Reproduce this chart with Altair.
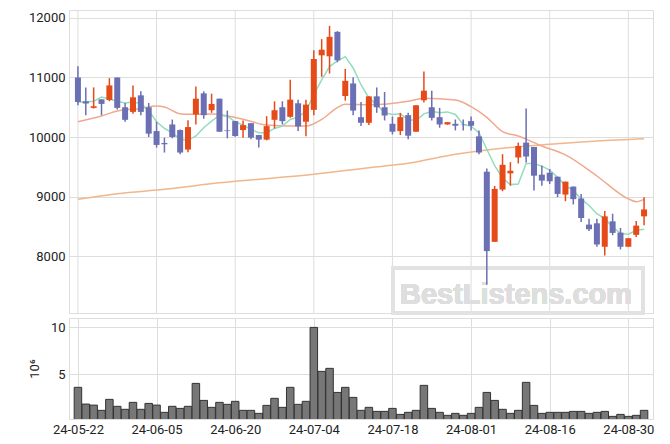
import altair as alt
import pandas as pd

# ---- data ----
opens = [11000, 10600, 10489, 10633, 10622, 11000, 10500, 10422, 10700, 10500,
         10100, 9900, 10211, 10117, 9789, 10378, 10733, 10450, 10644, 10111,
         10267, 10117, 10233, 10033, 9956, 10289, 10500, 10339, 10567, 10256,
         10456, 11372, 11356, 11767, 10689, 10900, 10333, 10239, 10683, 10500,
         10222, 10100, 10367, 10089, 10617, 10500, 10333, 10211, 10222, 10206,
         10267, 10011, 9417, 8239, 9117, 9389, 9656, 9906, 9833, 9367,
         9400, 9333, 9033, 9167, 8967, 8528, 8550, 8156, 8583, 8394,
         8156, 8356, 8667]
closes = [10589, 10561, 10517, 10556, 10867, 10489, 10289, 10667, 10422, 10056,
          9867, 9878, 10000, 9739, 10167, 10644, 10367, 10556, 10089, 10100,
          10017, 10200, 9989, 9956, 10183, 10450, 10267, 10628, 10178, 10544,
          11311, 11467, 11683, 11289, 10944, 10444, 10239, 10683, 10500, 10361,
          10089, 10333, 10022, 10533, 10778, 10322, 10211, 10250, 10189, 10200,
          10189, 9739, 8083, 9128, 9533, 9433, 9850, 9672, 9350, 9267,
          9256, 9044, 9250, 8956, 8639, 8450, 8194, 8667, 8389, 8156,
          8300, 8511, 8783]
highs = [11189, 10833, 10833, 10633, 10989, 11000, 10572, 10867, 10767, 10572,
         10256, 9989, 10294, 10128, 10283, 10850, 10767, 10728, 10644, 10444,
         10267, 10278, 10233, 10033, 10350, 10600, 10600, 10961, 10628, 10628,
         11456, 11644, 11867, 11778, 11144, 11006, 10589, 10683, 10833, 10756,
         10344, 10406, 10406, 10533, 11100, 10778, 10489, 10250, 10294, 10294,
         10344, 10111, 9472, 9178, 9711, 9578, 9906, 10478, 9833, 9517,
         9461, 9333, 9250, 9167, 9044, 8628, 8628, 8756, 8711, 8472,
         8300, 8589, 8989]
lows = [10533, 10367, 10478, 10367, 10600, 10461, 10256, 10389, 10367, 10000,
        9822, 9739, 9978, 9711, 9744, 10211, 10306, 10406, 10089, 9978,
        10006, 9989, 9961, 9822, 9944, 10144, 10211, 10322, 10100, 10011,
        10367, 11011, 11067, 11256, 10611, 10367, 10183, 10200, 10406, 10278,
        10044, 10033, 9961, 10089, 10578, 10278, 10156, 10206, 10111, 10111,
        10111, 9711, 7517, 8239, 9089, 9183, 9556, 9572, 9100, 9183,
        9211, 8989, 8922, 8867, 8572, 8422, 8156, 8011, 8350, 8111,
        8156, 8322, 8517]
volumes = [3.62, 1.84, 1.73, 1.17, 2.34, 1.60, 1.28, 2.02, 1.28, 1.91,
           1.73, 0.96, 1.60, 1.38, 1.60, 4.04, 2.23, 1.49, 2.02, 1.81,
           2.13, 1.17, 1.17, 0.85, 1.70, 2.45, 1.49, 3.62, 1.81, 2.13,
           10.0, 5.32, 5.64, 3.08, 3.62, 2.55, 1.17, 1.49, 1.06, 1.06,
           1.38, 0.74, 0.96, 1.17, 3.83, 1.38, 0.96, 0.64, 0.85, 0.64,
           0.85, 1.49, 3.08, 2.23, 1.28, 0.85, 1.17, 4.15, 1.70, 0.85,
           0.96, 0.96, 0.96, 1.06, 1.06, 0.85, 0.96, 1.06, 0.53, 0.74,
           0.53, 0.64, 1.17]
ma5 = [10589, 10583, 10600, 10672, 10639, 10600, 10572, 10589, 10561, 10444,
       10256, 10144, 10072, 9961, 9944, 10017, 10156, 10267, 10367, 10350,
       10256, 10200, 10128, 10072, 10072, 10144, 10183, 10294, 10333, 10433,
       10711, 10961, 11183, 11278, 11350, 11160, 10878, 10656, 10544, 10406,
       10378, 10389, 10294, 10278, 10389, 10433, 10406, 10422, 10378, 10211,
       10183, 10072, 9794, 9517, 9311, 9200, 9211, 9556, 9556, 9510,
       9444, 9322, 9183, 9100, 8961, 8850, 8711, 8628, 8489, 8378,
       8367, 8433, 8450]
ma20_idx = [0, 3, 5, 8, 10, 11, 13, 14, 17, 21, 24, 27, 29, 31, 33, 34, 37,
            42, 44, 48, 50, 52, 54, 56, 59, 62, 66, 70, 71, 72]
ma20_val = [10257, 10353, 10437, 10480, 10521, 10504, 10391, 10381, 10385, 10300,
            10200, 10185, 10185, 10297, 10493, 10549, 10540, 10600, 10650, 10620,
            10510, 10330, 10090, 10017, 9849, 9700, 9345, 8960, 8913, 8953]
malong_idx = [0, 5, 11, 18, 30, 37, 42, 48, 56, 60, 66, 72]
malong_val = [8953, 9048, 9121, 9230, 9373, 9484, 9558, 9709, 9837, 9877, 9933, 9971]

holidays = ["2024-06-06", "2024-08-15"]
days = [d for d in pd.bdate_range("2024-05-22", "2024-09-03")
        if d.strftime("%Y-%m-%d") not in holidays]
date_labels = [d.strftime("%y-%m-%d") for d in days]
tick_idx = list(range(0, 71, 10))

n = len(opens)
df = pd.DataFrame({
    "idx": list(range(n)), "date": date_labels[:n],
    "open": opens, "close": closes, "high": highs, "low": lows, "vol": volumes,
})
df["dir"] = ["up" if c > o else "down" for o, c in zip(opens, closes)]
df_ma5 = pd.DataFrame({"idx": list(range(n)), "v": ma5})
df_ma20 = pd.DataFrame({"idx": ma20_idx, "v": ma20_val})
df_long = pd.DataFrame({"idx": malong_idx, "v": malong_val})
df_ticks = pd.DataFrame({"idx": tick_idx})

RED = "#e64a19"
BLUE = "#6b6fb3"
GRID = "#dddddd"
FONT = "Roboto"

label_arr = "[" + ",".join("'" + date_labels[i] + "'" for i in tick_idx) + "]"
xscale = alt.Scale(domain=[-0.5, n - 0.5], nice=False, zero=False)
pscale = alt.Scale(domain=[7043, 12134], nice=False, zero=False)
color = alt.Color("dir:N", scale=alt.Scale(domain=["up", "down"], range=[RED, BLUE]), legend=None)

x_price = alt.X("idx:Q", scale=xscale, axis=None)

# vertical grid lines of the price panel
vgrid = alt.Chart(df_ticks).mark_rule(color=GRID, strokeWidth=1).encode(x=x_price)

# watermark
wm_box = alt.Chart(df).mark_rect(fill=None, stroke="#e2e2e2", strokeWidth=3).encode(
    x=alt.value(324), x2=alt.value(574), y=alt.value(258), y2=alt.value(303))
wm_text = alt.Chart(df).mark_text(text="BestListens.com", font="Liberation Sans", fontWeight="bold",
                                  fontSize=29, color="#dedede", align="center", baseline="alphabetic").encode(
    x=alt.value(447), y=alt.value(294))

line5 = alt.Chart(df_ma5).mark_line(color="#93dcbd", strokeWidth=1.5).encode(
    x=x_price, y=alt.Y("v:Q", scale=pscale))
line20 = alt.Chart(df_ma20).mark_line(color="#efa98e", strokeWidth=1.5, interpolate="monotone").encode(
    x=x_price, y=alt.Y("v:Q", scale=pscale))
lineL = alt.Chart(df_long).mark_line(color="#f1b68c", strokeWidth=1.5, interpolate="monotone").encode(
    x=x_price, y=alt.Y("v:Q", scale=pscale))

wick = alt.Chart(df).mark_rule(strokeWidth=1.5).encode(
    x=x_price,
    y=alt.Y("low:Q", scale=pscale,
            axis=alt.Axis(values=[8000, 9000, 10000, 11000, 12000], format="d", title=None, ticks=False,
                          domain=False, grid=True, gridColor=GRID, labelPadding=4,
                          labelFont=FONT, labelFontSize=13, labelColor="#222",
                          minExtent=45, maxExtent=45)),
    y2="high:Q", color=color)
body = alt.Chart(df).mark_bar(size=6).encode(
    x=x_price, y=alt.Y("open:Q", scale=pscale), y2="close:Q", color=color)

price = alt.layer(vgrid, wm_box, wm_text, lineL, line20, line5, wick, body).properties(width=584, height=303)

volume = alt.Chart(df).mark_bar(size=7.5, fill="#777777", stroke="#333333", strokeWidth=1, clip=True).encode(
    x=alt.X("idx:Q", scale=xscale,
            axis=alt.Axis(values=tick_idx, labelExpr=label_arr + "[round(datum.value/10)]",
                          ticks=False, domain=False, grid=True, gridColor=GRID, title=None,
                          labelFont=FONT, labelFontSize=13, labelColor="#222", labelPadding=4)),
    y=alt.Y("vol:Q", scale=alt.Scale(domain=[0.25, 11], nice=False, zero=False),
            axis=alt.Axis(values=[5, 10], title="10⁶", ticks=False, domain=False, grid=True,
                          gridColor=GRID, labelPadding=4, labelFont=FONT, labelFontSize=13,
                          labelColor="#222", titleFont=FONT, titleFontSize=13,
                          titleFontWeight="normal", titleColor="#222", titlePadding=8,
                          minExtent=20, maxExtent=20)),
).properties(width=584, height=101)

chart = alt.vconcat(price, volume, spacing=2).properties(
    padding={"left": 15, "top": 1, "right": 5, "bottom": 5}
).configure_view(stroke=GRID)

chart.save("out.html", embed_options={"renderer": "svg", "actions": False})
